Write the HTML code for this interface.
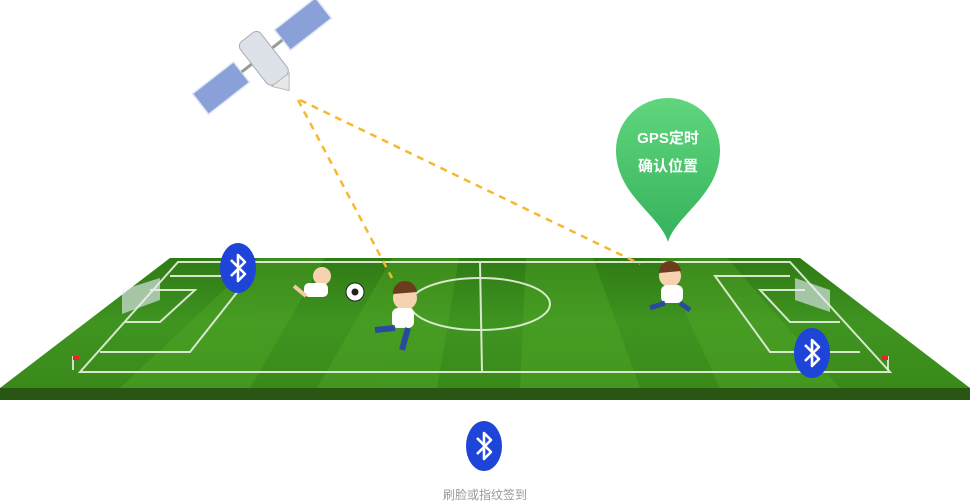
<!DOCTYPE html>
<html><head><meta charset="utf-8"><style>
html,body{margin:0;padding:0;background:#fff;width:970px;height:504px;overflow:hidden}
svg{display:block}
</style></head><body>
<svg width="970" height="504" viewBox="0 0 970 504" xmlns="http://www.w3.org/2000/svg">
<defs>
<linearGradient id="grass" x1="0" y1="0" x2="0" y2="1">
<stop offset="0" stop-color="#2f7a15"/><stop offset="0.5" stop-color="#3f9420"/><stop offset="1" stop-color="#3a8a1a"/>
</linearGradient>
<linearGradient id="pin" x1="0" y1="0" x2="0" y2="1">
<stop offset="0" stop-color="#5fd67d"/><stop offset="1" stop-color="#36b25c"/>
</linearGradient>
<g id="bt">
<ellipse cx="0" cy="0" rx="18" ry="25" fill="#1f45d8"/>
<path d="M-7,-8 L7,6 L0,13 L0,-13 L7,-6 L-7,8" fill="none" stroke="#fff" stroke-width="2.6" stroke-linejoin="round"/>
</g>
</defs>
<polygon points="0,388 970,388 970,400 0,400" fill="#2a5614"/>
<polygon points="170,258 800,258 970,388 0,388" fill="url(#grass)"/>
<g fill="#5bb22c" opacity="0.3">
<polygon points="258,258 325,258 250,388 120,388"/>
<polygon points="392,258 459,258 437,388 317,388"/>
<polygon points="526,258 593,258 640,388 520,388"/>
<polygon points="660,258 727,258 840,388 720,388"/>
</g>
<g fill="none" stroke="#e8f2e0" stroke-width="2" opacity="0.9">
<polygon points="178,262 790,262 890,372 80,372"/>
<line x1="480" y1="262" x2="482" y2="372"/>
<ellipse cx="480" cy="304" rx="70" ry="26"/>
<polyline points="170,276 250,276 190,352 100,352"/>
<polyline points="150,290 195,290 160,322 125,322"/>
<polyline points="790,276 715,276 770,352 860,352"/>
<polyline points="805,290 760,290 790,322 840,322"/>
</g>
<polygon points="122,290 160,278 160,300 122,314" fill="#eef" opacity="0.6"/>
<polygon points="795,278 830,290 830,312 795,300" fill="#eef" opacity="0.6"/>
<line x1="73" y1="356" x2="73" y2="370" stroke="#fff" stroke-width="1.5"/><rect x="73" y="356" width="6" height="4" fill="#e22"/>
<line x1="888" y1="356" x2="888" y2="370" stroke="#fff" stroke-width="1.5"/><rect x="882" y="356" width="6" height="4" fill="#e22"/>
<g stroke="#f5b82e" stroke-width="2.5" stroke-dasharray="7,6" fill="none">
<line x1="298" y1="100" x2="392" y2="278"/>
<line x1="300" y1="100" x2="640" y2="264"/>
</g>
<!-- satellite -->
<g transform="translate(262,56) rotate(-38)">
<rect x="-78" y="-13" width="52" height="26" fill="#8aa0d8" stroke="#dfe6f6" stroke-width="1.5"/>
<rect x="26" y="-13" width="52" height="26" fill="#8aa0d8" stroke="#dfe6f6" stroke-width="1.5"/>
<line x1="-26" y1="0" x2="26" y2="0" stroke="#999" stroke-width="3"/>
<rect x="-13" y="-24" width="26" height="54" rx="6" fill="#dde2e8" stroke="#aab"/>
<polygon points="-11,30 11,30 0,44" fill="#e8e8e8" stroke="#bbb"/>
</g>
<circle cx="355" cy="292" r="9" fill="#fff" stroke="#222"/><circle cx="355" cy="292" r="3.5" fill="#222"/>
<g>
<circle cx="322" cy="276" r="9" fill="#f6d2b0"/><rect x="304" y="283" width="24" height="14" rx="5" fill="#fff"/>
<line x1="306" y1="296" x2="294" y2="286" stroke="#f2c9a5" stroke-width="4"/>
<circle cx="405" cy="298" r="12" fill="#f6d2b0"/><path d="M393,294 a12,12 0 0 1 24,-2 z" fill="#6b3d1c"/>
<rect x="392" y="308" width="22" height="20" rx="6" fill="#fff"/>
<line x1="395" y1="328" x2="375" y2="330" stroke="#2a4aa0" stroke-width="6"/>
<line x1="408" y1="328" x2="402" y2="350" stroke="#2a4aa0" stroke-width="6"/>
<circle cx="670" cy="276" r="11" fill="#f6d2b0"/><path d="M659,273 a11,11 0 0 1 22,-2 z" fill="#6b3d1c"/>
<rect x="661" y="285" width="22" height="18" rx="6" fill="#fff"/>
<line x1="665" y1="303" x2="650" y2="308" stroke="#2a4aa0" stroke-width="5"/>
<line x1="680" y1="303" x2="690" y2="310" stroke="#2a4aa0" stroke-width="5"/>
</g>
<path d="M668,242 C660,215 616,195 616,150 A52,52 0 0 1 720,150 C720,195 676,215 668,242 Z" fill="url(#pin)"/>
<text x="668" y="143" text-anchor="middle" fill="#fff" font-family="Liberation Sans, Noto Sans CJK SC, sans-serif" font-size="15" font-weight="bold">GPS定时</text>
<text x="668" y="171" text-anchor="middle" fill="#fff" font-family="Liberation Sans, Noto Sans CJK SC, sans-serif" font-size="15" font-weight="bold">确认位置</text>
<use href="#bt" x="238" y="268"/>
<use href="#bt" x="812" y="353"/>
<use href="#bt" x="484" y="446"/>
<text x="485" y="499" text-anchor="middle" fill="#999" font-family="Liberation Sans, Noto Sans CJK SC, sans-serif" font-size="12">刷脸或指纹签到</text>
</svg>
</body></html>
